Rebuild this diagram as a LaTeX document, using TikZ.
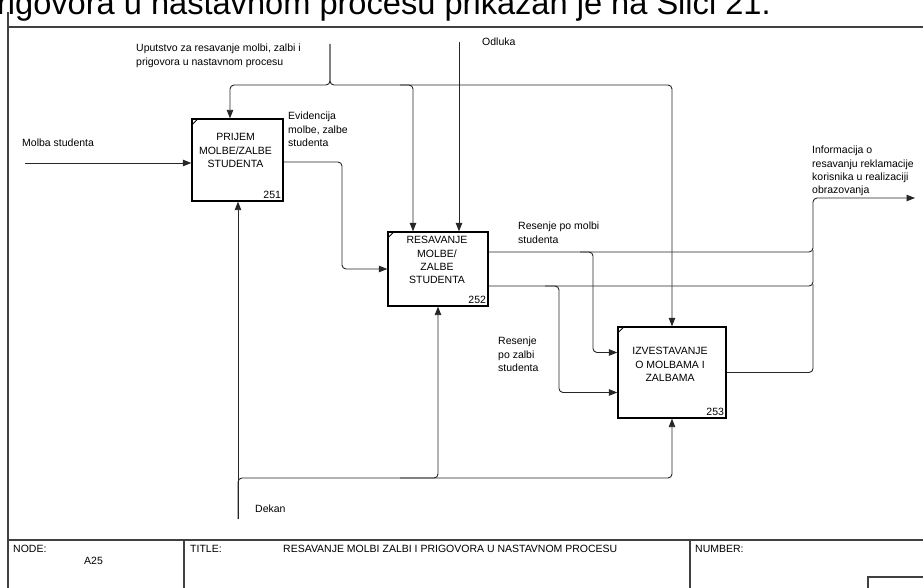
\documentclass[tikz,border=0pt]{standalone}
\usepackage{fontspec}
\setmainfont{Liberation Sans}
\usetikzlibrary{arrows.meta}
\begin{document}
\begin{tikzpicture}[x=1pt,y=-1pt,
  lbl/.style={inner sep=0pt, align=left, font=\fontsize{10.5}{13.3}\selectfont, anchor=north west},
  actbox/.style={draw=black, line width=1.3pt, fill=white, inner sep=0pt},
  boxtext/.style={inner sep=0pt, align=center, font=\fontsize{10.5}{13.3}\selectfont, anchor=north},
  boxnum/.style={inner sep=2.5pt, font=\fontsize{10.5}{12}\selectfont, anchor=south east},
  flow/.style={draw=black!85, line width=0.9pt, rounded corners=4pt},
  tip/.style={-{Triangle[length=8.5pt,width=6.5pt]}},
  frame/.style={draw=black!75, line width=1.2pt}
]
\useasboundingbox (0,0) rectangle (923,588);
\clip (0,0) rectangle (923,588);

% running text line above the sheet
\node[anchor=base east, inner sep=0pt, font=\fontsize{32.6}{36}\selectfont] (head) at (771,14.5)
  {prigovora u nastavnom procesu prikazan je na Slici 21.};

% sheet frame and title block
\draw[frame] (8,12) -- (8,588);
\draw[frame] (8,27) -- (923,27);
\draw[frame] (8,540) -- (923,540);
\draw[frame] (184,540) -- (184,588);
\draw[frame] (690,540) -- (690,588);
\draw[frame] (868,588) -- (868,577) -- (923,577);
\node[lbl] (nodehdr) at (13,545) {NODE:};
\node[lbl] (nodeval) at (84,557) {A25};
\node[lbl] (titlehdr) at (190,545) {TITLE:};
\node[lbl] (titleval) at (283,545) {RESAVANJE MOLBI ZALBI I PRIGOVORA U NASTAVNOM PROCESU};
\node[lbl] (numhdr) at (695,545) {NUMBER:};

% activity boxes
\node[actbox, minimum width=91pt, minimum height=82pt] (b1) at (237.5,160) {};
\node[actbox, minimum width=100pt, minimum height=74pt] (b2) at (438,269) {};
\node[actbox, minimum width=108pt, minimum height=91pt] (b3) at (672,372.5) {};
\foreach \b in {b1,b2,b3}{
  \draw[line width=0.8pt] ([yshift=-7pt]\b.north west) -- ([xshift=7pt]\b.north west);
}
\node[boxtext] (b1t) at ([xshift=-2pt,yshift=-15pt]b1.north) {PRIJEM\\MOLBE/ZALBE\\STUDENTA};
\node[boxtext] (b2t) at ([xshift=-1pt,yshift=-5pt]b2.north) {RESAVANJE\\MOLBE/\\ZALBE\\STUDENTA};
\node[boxtext] (b3t) at ([xshift=-2pt,yshift=-21pt]b3.north) {IZVESTAVANJE\\O MOLBAMA I\\ZALBAMA};
\node[boxnum] (b1n) at (b1.south east) {251};
\node[boxnum] (b2n) at (b2.south east) {252};
\node[boxnum] (b3n) at (b3.south east) {253};

% free ends of the boundary arrows
\coordinate (ctlsrc) at (330,44);
\coordinate (odlsrc) at (459,42);
\coordinate (molsrc) at (25,163);
\coordinate (outend) at (915,198);
\coordinate (mechsrc) at (238,519);

% controls
\draw[flow,tip] (ctlsrc) -- (330,85) -| ([xshift=-7.5pt]b1.north);
\draw[flow,tip] (ctlsrc) -- (330,85) -| (b3.north);
\draw[flow,tip] (400,85) -| ([xshift=-25pt]b2.north);
\draw[flow,tip] (odlsrc) -- (odlsrc |- b2.north);

% inputs
\draw[flow,tip] (molsrc) -- (molsrc -| b1.west);
\draw[flow,tip] ([yshift=-2pt]b1.east) -- (342,162) |- (b2.west);

% outputs of 252 and 253
\draw[flow,tip] ([yshift=17pt]b2.east) -- (813,252) |- (outend);
\draw[flow] ([yshift=-17pt]b2.east) -- (813,286) -- (813,250);
\draw[flow] (b3.east) -- (813,372.5) -- (813,284);
\draw[flow,tip] (580,252) -- (593,252) |- ([yshift=20pt]b3.west);
\draw[flow,tip] (545,286) -- (559,286) |- ([yshift=-20pt]b3.west);

% mechanisms
\draw[flow,tip] (mechsrc) -- (mechsrc |- b1.south);
\draw[flow,tip] (mechsrc) -- (238,478) -| (b3.south);
\draw[flow,tip] (400,478) -| (b2.south);

% arrow labels
\node[lbl] (lctl) at (136,44) {Uputstvo za resavanje molbi, zalbi i\\prigovora u nastavnom procesu};
\node[lbl] (lodl) at (482,38) {Odluka};
\node[lbl] (lmol) at (22,139) {Molba studenta};
\node[lbl] (levi) at (288,112) {Evidencija\\molbe, zalbe\\studenta};
\node[lbl] (linf) at (812,146) {Informacija o\\resavanju reklamacije\\korisnika u realizaciji\\obrazovanja};
\node[lbl] (lrm) at (518,222) {Resenje po molbi\\studenta};
\node[lbl] (lrz) at (498,337) {Resenje\\po zalbi\\studenta};
\node[lbl] (ldek) at (255,505) {Dekan};
\end{tikzpicture}
\end{document}
